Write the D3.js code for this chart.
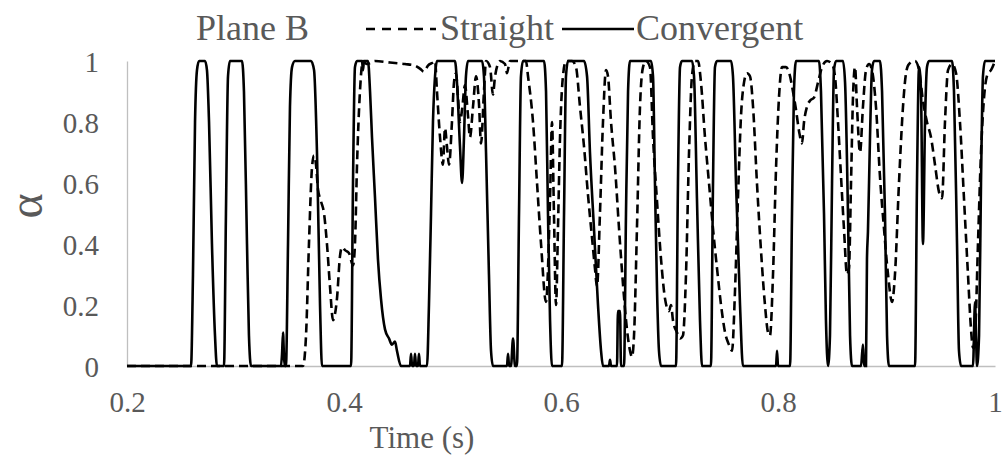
<!DOCTYPE html>
<html>
<head>
<meta charset="utf-8">
<script src="https://cdn.jsdelivr.net/npm/d3@7"></script>
</head>
<body style="margin:0">
<svg id="chart" width="1002" height="457" font-family="Liberation Serif"></svg>
<script>
// ---- data ----
const xTicks = [0.2, 0.4, 0.6, 0.8, 1];
const yTicks = [0, 0.2, 0.4, 0.6, 0.8, 1];

// Convergent (solid)
const convTime = [
  0.2000, 0.2590, 0.2608, 0.2627, 0.2645, 0.2664, 0.2719, 0.2737, 0.2756, 0.2783, 0.2811, 0.2829,
  0.2894, 0.2912, 0.2931, 0.2949, 0.3060, 0.3078, 0.3106, 0.3124, 0.3143,
  0.3419, 0.3429, 0.3438, 0.3447, 0.3456, 0.3465, 0.3484, 0.3502, 0.3521, 0.3548, 0.3696, 0.3724, 0.3751, 0.3779, 0.3797,
  0.4065, 0.4083, 0.4101, 0.4120, 0.4166, 0.4175, 0.4184, 0.4221, 0.4240, 0.4258, 0.4286, 0.4313, 0.4341, 0.4378,
  0.4415, 0.4442, 0.4470, 0.4488, 0.4525, 0.4608, 0.4618, 0.4627, 0.4645, 0.4654, 0.4664, 0.4682, 0.4691, 0.4700,
  0.4765, 0.4783, 0.4802, 0.4820, 0.4839, 0.4857, 0.5023, 0.5041, 0.5069, 0.5088, 0.5106, 0.5124, 0.5143,
  0.5272, 0.5290, 0.5309, 0.5336, 0.5355, 0.5373, 0.5502, 0.5512, 0.5521, 0.5539, 0.5558, 0.5576, 0.5594,
  0.5613, 0.5631, 0.5650, 0.5843, 0.5862, 0.5880, 0.5899, 0.5917, 0.6009, 0.6028, 0.6046, 0.6065,
  0.6212, 0.6240, 0.6267, 0.6304, 0.6341, 0.6369, 0.6387, 0.6442, 0.6452, 0.6461, 0.6516, 0.6525, 0.6544, 0.6553,
  0.6581, 0.6599, 0.6618, 0.6636, 0.6829, 0.6848, 0.6866, 0.6885, 0.6903, 0.6922,
  0.7060, 0.7078, 0.7097, 0.7115, 0.7207, 0.7226, 0.7253, 0.7281, 0.7300,
  0.7382, 0.7401, 0.7419, 0.7438, 0.7567, 0.7585, 0.7613, 0.7650, 0.7677,
  0.7982, 0.7991, 0.8000, 0.8111, 0.8129, 0.8147, 0.8166, 0.8378, 0.8396, 0.8424, 0.8442, 0.8461,
  0.8479, 0.8498, 0.8516, 0.8535, 0.8599, 0.8618, 0.8645, 0.8664, 0.8682,
  0.8765, 0.8783, 0.8793, 0.8811, 0.8820, 0.8829, 0.8848, 0.8866, 0.8885, 0.8940, 0.8959, 0.8986, 0.9005, 0.9023,
  0.9263, 0.9281, 0.9300, 0.9318, 0.9336, 0.9355, 0.9373, 0.9392, 0.9604, 0.9622, 0.9650, 0.9668, 0.9687,
  0.9797, 0.9816, 0.9825, 0.9834, 0.9853, 0.9871, 0.9889, 0.9908, 1.0000
];
const convAlpha = [
  0, 0, 0.3, 0.8, 0.97, 1, 1, 0.97, 0.8, 0.4, 0.1, 0,
  0, 0.5, 0.95, 1, 1, 0.9, 0.4, 0.1, 0,
  0, 0.04, 0.11, 0.03, 0, 0, 0.4, 0.85, 0.98, 1, 1, 0.97, 0.7, 0.2, 0,
  0, 0.6, 0.98, 1, 1, 0.97, 1, 1, 0.9, 0.75, 0.55, 0.35, 0.22, 0.12,
  0.09, 0.07, 0.08, 0.05, 0, 0, 0.04, 0, 0, 0.04, 0, 0, 0.04, 0,
  0, 0.2, 0.5, 0.8, 0.95, 1, 1, 0.93, 0.72, 0.6, 0.75, 0.95, 1,
  1, 0.95, 0.7, 0.3, 0.05, 0, 0, 0.04, 0, 0, 0.09, 0, 0,
  0.5, 0.95, 1, 1, 0.9, 0.5, 0.15, 0, 0, 0.5, 0.95, 1,
  1, 0.95, 0.7, 0.45, 0.2, 0.05, 0, 0, 0.02, 0, 0, 0.18, 0.18, 0,
  0, 0.5, 0.9, 1, 1, 0.95, 0.6, 0.25, 0.05, 0,
  0, 0.6, 0.98, 1, 1, 0.95, 0.55, 0.15, 0,
  0, 0.6, 0.98, 1, 1, 0.95, 0.6, 0.2, 0,
  0, 0.05, 0, 0, 0.5, 0.9, 1, 1, 0.9, 0.5, 0.15, 0,
  0.1, 0.6, 0.97, 1, 1, 0.93, 0.5, 0.1, 0,
  0, 0.07, 0, 0, 0.35, 0.44, 0.75, 0.97, 1, 1, 0.9, 0.5, 0.1, 0,
  0, 0.6, 0.98, 0.9, 0.4, 0.8, 0.98, 1, 1, 0.9, 0.4, 0.05, 0,
  0, 0.21, 0.1, 0, 0.1, 0.6, 0.95, 1, 1
];

// Straight (dashed)
const straightTime = [
  0.2000, 0.3622, 0.3650, 0.3677, 0.3705, 0.3724, 0.3742, 0.3760, 0.3788, 0.3816, 0.3843, 0.3871, 0.3899,
  0.3917, 0.3935, 0.3963, 0.3982, 0.4009, 0.4046, 0.4083, 0.4101, 0.4120, 0.4147, 0.4175, 0.4212, 0.4286,
  0.4424, 0.4562, 0.4654, 0.4700, 0.4737, 0.4774, 0.4820, 0.4839, 0.4857, 0.4885, 0.4912, 0.4931, 0.4949,
  0.4968, 0.4995, 0.5014, 0.5032, 0.5051, 0.5069, 0.5088, 0.5115, 0.5143, 0.5161, 0.5189, 0.5217, 0.5244,
  0.5263, 0.5290, 0.5309, 0.5346, 0.5373, 0.5392, 0.5438, 0.5484, 0.5502, 0.5530, 0.5677, 0.5696, 0.5742,
  0.5779, 0.5816, 0.5862, 0.5899, 0.5917, 0.5935, 0.5954, 0.5972, 0.5991, 0.6018, 0.6046, 0.6101, 0.6138,
  0.6175, 0.6212, 0.6249, 0.6286, 0.6313, 0.6332, 0.6359, 0.6387, 0.6415, 0.6433, 0.6461, 0.6498, 0.6535,
  0.6571, 0.6608, 0.6636, 0.6654, 0.6673, 0.6700, 0.6728, 0.6756, 0.6783, 0.6820, 0.6848, 0.6885, 0.6922,
  0.6959, 0.6995, 0.7014, 0.7032, 0.7069, 0.7097, 0.7124, 0.7152, 0.7180, 0.7207, 0.7235, 0.7263, 0.7290,
  0.7327, 0.7364, 0.7401, 0.7438, 0.7475, 0.7512, 0.7548, 0.7576, 0.7604, 0.7631, 0.7659, 0.7687, 0.7714,
  0.7742, 0.7770, 0.7806, 0.7843, 0.7880, 0.7908, 0.7926, 0.7954, 0.7982, 0.8009, 0.8037, 0.8074, 0.8111,
  0.8138, 0.8166, 0.8194, 0.8221, 0.8240, 0.8267, 0.8295, 0.8332, 0.8369, 0.8406, 0.8452, 0.8498, 0.8525,
  0.8553, 0.8581, 0.8608, 0.8636, 0.8654, 0.8673, 0.8691, 0.8710, 0.8728, 0.8756, 0.8783, 0.8811, 0.8839,
  0.8866, 0.8903, 0.8940, 0.8977, 0.9014, 0.9051, 0.9078, 0.9115, 0.9152, 0.9180, 0.9207, 0.9263, 0.9300,
  0.9336, 0.9373, 0.9410, 0.9447, 0.9484, 0.9512, 0.9539, 0.9567, 0.9604, 0.9641, 0.9677, 0.9714, 0.9751,
  0.9779, 0.9797, 0.9816, 0.9843, 0.9871, 0.9899, 0.9935, 0.9963, 1.0000
];
const straightAlpha = [
  0, 0, 0.1, 0.4, 0.65, 0.69, 0.66, 0.58, 0.54, 0.5, 0.4, 0.26, 0.15,
  0.17, 0.22, 0.36, 0.39, 0.38, 0.37, 0.33, 0.4, 0.66, 0.9, 1.0, 0.99, 1.0,
  0.995, 0.99, 0.985, 0.975, 0.965, 0.985, 0.995, 1, 0.9, 0.75, 0.66, 0.78, 0.72,
  0.66, 0.8, 0.93, 0.96, 0.88, 0.8, 0.84, 0.92, 0.82, 0.75, 0.85, 0.95, 0.86,
  0.73, 0.9, 1.0, 0.98, 0.89, 0.95, 1.0, 0.99, 0.96, 1.0, 1.0, 0.95, 0.8,
  0.6, 0.4, 0.21, 0.55, 0.8, 0.5, 0.2, 0.45, 0.75, 0.95, 1.0, 1.0, 0.98,
  0.85, 0.72, 0.56, 0.42, 0.32, 0.26, 0.5, 0.8, 0.97, 0.95, 0.8, 0.65, 0.45,
  0.27, 0.12, 0.05, 0.03, 0.1, 0.45, 0.85, 0.98, 1.0, 0.98, 0.75, 0.54, 0.35,
  0.22, 0.18, 0.2, 0.15, 0.11, 0.09, 0.1, 0.3, 0.7, 0.95, 1.0, 1.0, 0.93,
  0.75, 0.6, 0.45, 0.32, 0.2, 0.11, 0.07, 0.05, 0.25, 0.55, 0.82, 0.93, 0.96,
  0.95, 0.85, 0.6, 0.38, 0.2, 0.11, 0.1, 0.3, 0.65, 0.88, 0.98, 0.98, 0.95,
  0.9, 0.84, 0.77, 0.73, 0.8, 0.85, 0.87, 0.88, 0.93, 0.98, 1.0, 0.99, 0.95,
  0.8, 0.62, 0.45, 0.3, 0.32, 0.6, 0.88, 0.98, 0.85, 0.7, 0.85, 0.97, 0.99,
  0.97, 0.85, 0.62, 0.45, 0.3, 0.21, 0.3, 0.6, 0.85, 0.96, 0.99, 1.0, 0.97,
  0.87, 0.8, 0.75, 0.66, 0.57, 0.55, 0.8, 0.97, 0.99, 0.96, 0.8, 0.55, 0.3,
  0.12, 0.06, 0.1, 0.4, 0.7, 0.88, 0.96, 0.97, 1.0
];

const convergent = convTime.map((t, i) => ({ t, a: convAlpha[i] }));
const straight = straightTime.map((t, i) => ({ t, a: straightAlpha[i] }));

// ---- layout ----
const svg = d3.select("#chart");
const plot = { left: 127, right: 995, top: 61, bottom: 366 };
const GREY = "#595959";

const x = d3.scaleLinear().domain([0.2, 1]).range([plot.left, plot.right]);
const y = d3.scaleLinear().domain([0, 1]).range([plot.bottom, plot.top]);

const fmt = (d) => (d === 0 || d === 1) ? String(d) : d3.format(".1f")(d);

// x axis
svg.append("g")
  .attr("transform", `translate(0,${plot.bottom})`)
  .call(d3.axisBottom(x).tickValues(xTicks).tickSize(0).tickPadding(0).tickFormat(fmt))
  .attr("font-family", "Liberation Serif")
  .attr("font-size", 29)
  .call(s => s.select(".domain").attr("stroke", "#bfbfbf").attr("stroke-width", 1.3))
  .call(s => s.selectAll("text")
    .attr("dy", null)
    .attr("y", 46)
    .attr("fill", GREY));

// y axis
svg.append("g")
  .attr("transform", `translate(${plot.left},0)`)
  .call(d3.axisLeft(y).tickValues(yTicks).tickSize(0).tickPadding(0).tickFormat(fmt))
  .attr("font-family", "Liberation Serif")
  .attr("font-size", 29)
  .call(s => s.select(".domain").attr("stroke", "#bfbfbf").attr("stroke-width", 1.3))
  .call(s => s.selectAll("text")
    .attr("x", -28)
    .attr("dy", "0.35em")
    .attr("fill", GREY));

// ---- lines ----
const line = d3.line()
  .x(d => x(d.t))
  .y(d => y(d.a))
  .curve(d3.curveMonotoneX);

svg.append("path")
  .datum(straight)
  .attr("d", line)
  .attr("fill", "none")
  .attr("stroke", "#000")
  .attr("stroke-width", 2.6)
  .attr("stroke-dasharray", "9,5");

svg.append("path")
  .datum(convergent)
  .attr("d", line)
  .attr("fill", "none")
  .attr("stroke", "#000")
  .attr("stroke-width", 2.6);

// ---- titles ----
function label(px, py, str, size, anchor) {
  return svg.append("text")
    .attr("x", px)
    .attr("y", py)
    .attr("text-anchor", anchor || "start")
    .attr("fill", GREY)
    .attr("font-family", "Liberation Serif")
    .attr("font-size", size)
    .text(str);
}

label(422, 448, "Time (s)", 31, "middle");
svg.append("text")
  .attr("transform", "translate(42,206) rotate(-90)")
  .attr("text-anchor", "middle")
  .attr("fill", GREY)
  .attr("font-family", "Liberation Serif")
  .attr("font-size", 48)
  .text("α");

// ---- legend ----
const legendY = 40;
label(196, legendY, "Plane B", 36);

svg.append("line")
  .attr("x1", 366).attr("x2", 436)
  .attr("y1", 29).attr("y2", 29)
  .attr("stroke", "#000").attr("stroke-width", 2.6)
  .attr("stroke-dasharray", "9,7");
label(440, legendY, "Straight", 36);

svg.append("line")
  .attr("x1", 562).attr("x2", 634)
  .attr("y1", 29).attr("y2", 29)
  .attr("stroke", "#000").attr("stroke-width", 2.6);
label(636, legendY, "Convergent", 36);
</script>
</body>
</html>
